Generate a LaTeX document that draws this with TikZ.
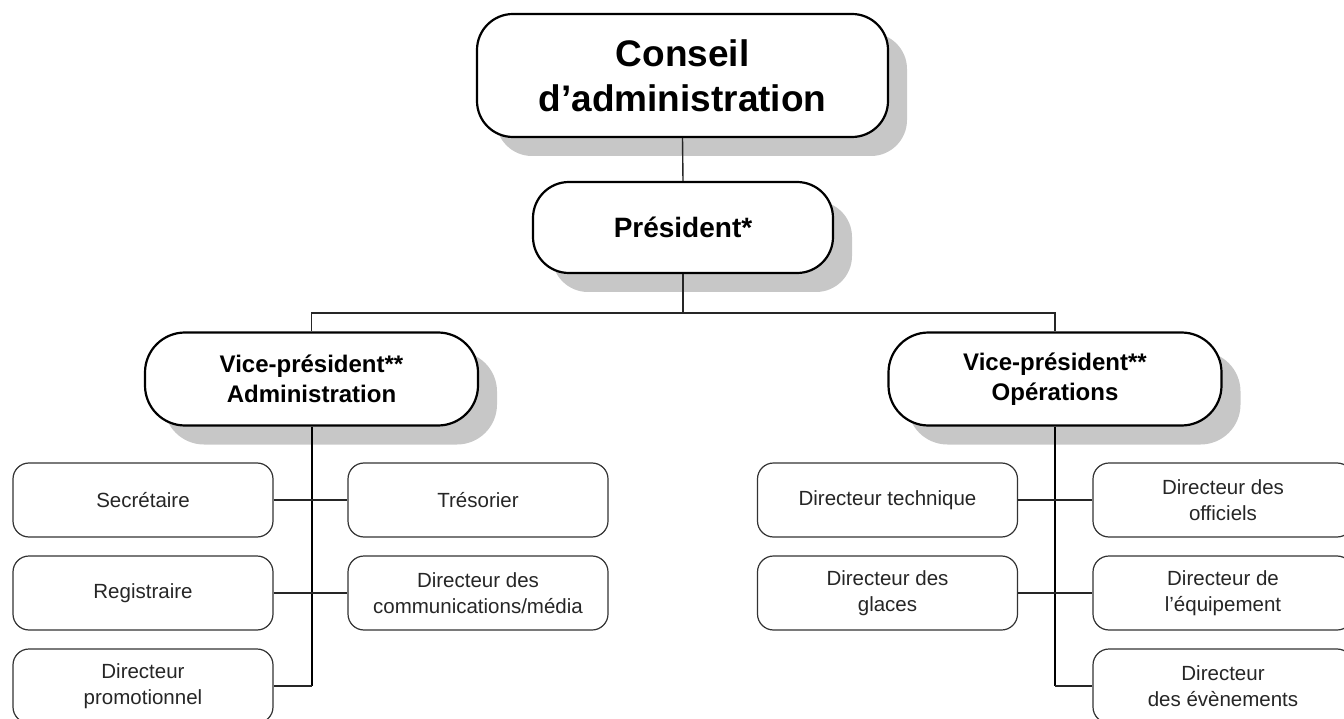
\documentclass[tikz,border=0pt]{standalone}
\usepackage{fontspec}
\setmainfont{Liberation Sans}
\usetikzlibrary{shadows}
\tikzset{
  topbox/.style={draw=black, line width=2.2pt, fill=white, rounded corners=36pt, align=center,
    font=\bfseries, drop shadow={shadow xshift=19pt, shadow yshift=-19pt, fill=black!22, opacity=1}},
  childbox/.style={draw=black!80, line width=1.2pt, fill=white, rounded corners=16pt, align=center,
    minimum width=260pt, minimum height=74pt, inner sep=0pt, text=black!85,
    font=\fontsize{20.5}{26}\selectfont},
  thinconn/.style={draw=black!85, line width=1.4pt},
  trunk/.style={draw=black, line width=2pt},
}
\begin{document}
\begin{tikzpicture}[x=1pt,y=-1pt]
\useasboundingbox (0,0) rectangle (1344,719);
% top boxes
\node[topbox, minimum width=411pt, minimum height=123pt, inner sep=0pt,
  font=\bfseries\fontsize{37}{45}\selectfont] (conseil) at (682.5,75.5) {Conseil\\d’administration};
\node[topbox, minimum width=300pt, minimum height=91pt, inner sep=0pt,
  font=\bfseries\fontsize{28}{34}\selectfont] (pres) at (683,227.5) {Président*};
\node[topbox, minimum width=333pt, minimum height=93pt, inner sep=0pt, rounded corners=40pt,
  font=\bfseries\fontsize{24}{30}\selectfont] (vpa) at (311.5,379) {Vice-président**\\Administration};
\node[topbox, minimum width=333pt, minimum height=93pt, inner sep=0pt, rounded corners=40pt,
  font=\bfseries\fontsize{24}{30}\selectfont] (vpo) at (1055,379) {Vice-président**\\Opérations};
% admin children
\node[childbox] (a1) at (143,500) {Secrétaire};
\node[childbox] (a2) at (143,593) {Registraire};
\node[childbox] (a3) at (143,686) {Directeur\\promotionnel};
\node[childbox] (b1) at (478,500) {Trésorier};
\node[childbox] (b2) at (478,593) {Directeur des\\communications/média};
% operations children
\node[childbox] (c1) at (887.5,500) {Directeur technique};
\node[childbox] (c2) at (887.5,593) {Directeur des\\glaces};
\node[childbox] (d1) at (1223,500) {Directeur des\\officiels};
\node[childbox] (d2) at (1223,593) {Directeur de\\l’équipement};
\node[childbox] (d3) at (1223,686) {Directeur\\des évènements};
% connectors
\coordinate (bus) at (683,313);
\draw[thinconn] (conseil.south) -- (pres.north);
\draw[thinconn] (pres.south) -- (pres.south |- bus);
\draw[thinconn] (vpa.north) -- (vpa.north |- bus) -- (vpo.north |- bus) -- (vpo.north);
\draw[trunk] (vpa.south) -- (vpa.south |- a3.east);
\draw[thinconn] (vpa.south |- a3.east) -- (a3.east);
\draw[thinconn] (a1.east) -- (b1.west);
\draw[thinconn] (a2.east) -- (b2.west);
\draw[trunk] (vpo.south) -- (vpo.south |- d3.west);
\draw[thinconn] (vpo.south |- d3.west) -- (d3.west);
\draw[thinconn] (c1.east) -- (d1.west);
\draw[thinconn] (c2.east) -- (d2.west);
\end{tikzpicture}
\end{document}
